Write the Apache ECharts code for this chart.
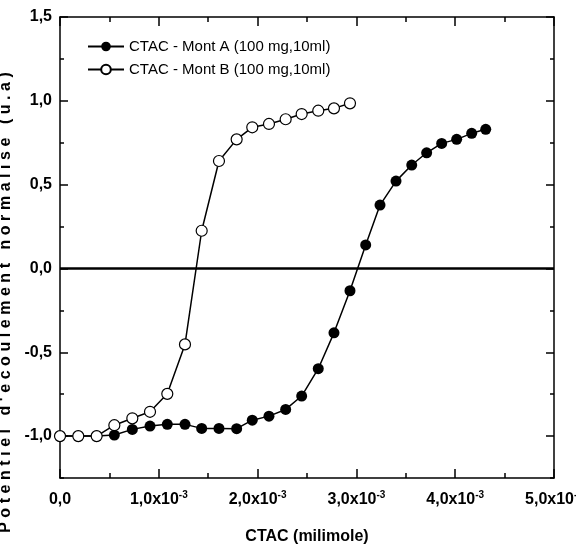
<!DOCTYPE html>
<html>
<head>
<meta charset="utf-8">
<script src="https://cdn.jsdelivr.net/npm/echarts@6/dist/echarts.min.js"></script>
<style>
  html, body { margin: 0; padding: 0; background: #fff; }
  #main { width: 576px; height: 547px; }
</style>
</head>
<body>
<div id="main"></div>
<script>
// CTAC concentration (milimole)
const concA = [0, 0.185e-3, 0.371e-3, 0.550e-3, 0.732e-3, 0.911e-3, 1.086e-3, 1.265e-3, 1.434e-3,
  1.609e-3, 1.788e-3, 1.946e-3, 2.115e-3, 2.284e-3, 2.446e-3, 2.614e-3, 2.773e-3, 2.935e-3,
  3.094e-3, 3.239e-3, 3.401e-3, 3.560e-3, 3.711e-3, 3.863e-3, 4.015e-3, 4.167e-3, 4.309e-3];
const potA = [-1.0, -1.0, -1.0, -0.994, -0.960, -0.940, -0.930, -0.930, -0.954,
  -0.954, -0.956, -0.905, -0.881, -0.841, -0.761, -0.598, -0.384, -0.133,
  0.140, 0.378, 0.521, 0.617, 0.690, 0.746, 0.770, 0.806, 0.830];

const concB = [0, 0.185e-3, 0.371e-3, 0.550e-3, 0.732e-3, 0.911e-3, 1.086e-3, 1.265e-3, 1.434e-3,
  1.609e-3, 1.788e-3, 1.946e-3, 2.115e-3, 2.284e-3, 2.446e-3, 2.614e-3, 2.773e-3, 2.935e-3];
const potB = [-1.0, -1.0, -1.0, -0.935, -0.894, -0.855, -0.748, -0.453, 0.225,
  0.641, 0.770, 0.842, 0.862, 0.890, 0.921, 0.941, 0.955, 0.985];

const yMajorTicks = [-1.0, -0.5, 0, 0.5, 1.0, 1.5];
const yMinorTicks = [-1.25, -0.75, -0.25, 0.25, 0.75, 1.25];

const nameA = 'CTAC - Mont A (100 mg,10ml)';
const nameB = 'CTAC - Mont B (100 mg,10ml)';
// letter-spaced in the original figure
const yName = "Potentiel d'ecoulement normalise (u.a)".split('').join('\u2009\u200a');

const font = "'Liberation Sans', Arial, sans-serif";

function pairs(xs, ys) {
  return xs.map((x, i) => [x, ys[i]]);
}

function xLabel(value) {
  if (value === 0) return '{b|0,0}';
  const m = (value * 1000).toFixed(1).replace('.', ',');
  return `{b|${m}x10}{s|-3}`;
}

const axisLine = { show: true, onZero: false, lineStyle: { color: '#000', width: 1.5 } };
const tickStyle = { color: '#000', width: 1.5 };

const chart = echarts.init(document.getElementById('main'));

const option = {
  animation: false,
  grid: { left: 60, right: 22, top: 17, bottom: 69, outerBoundsMode: 'none', containLabel: false },
  legend: {
    orient: 'vertical',
    left: 87,
    top: 39,
    padding: 0,
    itemWidth: 36,
    itemHeight: 12,
    itemGap: 8,
    textStyle: { fontFamily: font, fontSize: 15, color: '#000' },
    data: [nameA, nameB]
  },
  xAxis: [
    {
      type: 'value', position: 'bottom', min: 0, max: 0.005, interval: 0.001,
      axisLine: axisLine,
      axisTick: { inside: true, length: 9, lineStyle: tickStyle },
      minorTick: { show: true, splitNumber: 2, length: 5, lineStyle: tickStyle },
      splitLine: { show: false },
      axisLabel: {
        margin: 12,
        formatter: xLabel,
        rich: {
          b: { fontFamily: font, fontSize: 16, fontWeight: 'bold', color: '#000', lineHeight: 20 },
          s: { fontFamily: font, fontSize: 10, fontWeight: 'bold', color: '#000', verticalAlign: 'top', lineHeight: 12 }
        }
      },
      name: 'CTAC (milimole)',
      nameLocation: 'middle',
      nameGap: 51,
      nameTextStyle: { fontFamily: font, fontSize: 16, fontWeight: 'bold', color: '#000' }
    },
    {
      type: 'value', position: 'top', min: 0, max: 0.005, interval: 0.001,
      axisLine: axisLine,
      axisTick: { inside: true, length: 9, lineStyle: tickStyle },
      minorTick: { show: true, splitNumber: 2, length: 5, lineStyle: tickStyle },
      splitLine: { show: false },
      axisLabel: { show: false }
    }
  ],
  yAxis: [
    {
      type: 'value', position: 'left', min: -1.25, max: 1.5,
      axisLine: axisLine,
      axisTick: { inside: true, length: 8, customValues: yMajorTicks, lineStyle: tickStyle },
      splitLine: { show: false },
      axisLabel: {
        customValues: yMajorTicks,
        margin: 8,
        fontFamily: font, fontSize: 16, fontWeight: 'bold', color: '#000',
        formatter: v => v.toFixed(1).replace('.', ',')
      },
      name: yName,
      nameLocation: 'middle',
      nameRotate: 90,
      nameGap: 46,
      nameTextStyle: {
        fontFamily: font, fontSize: 16, fontWeight: 'bold', color: '#000',
        padding: [0, 110, 0, 0]
      }
    },
    {
      type: 'value', position: 'left', min: -1.25, max: 1.5, offset: 0,
      axisLine: { show: false, onZero: false },
      axisTick: { inside: true, length: 4, customValues: yMinorTicks, lineStyle: tickStyle },
      splitLine: { show: false },
      axisLabel: { show: false }
    },
    {
      type: 'value', position: 'right', min: -1.25, max: 1.5, offset: 0,
      axisLine: axisLine,
      axisTick: { inside: true, length: 8, customValues: yMajorTicks, lineStyle: tickStyle },
      splitLine: { show: false },
      axisLabel: { show: false }
    },
    {
      type: 'value', position: 'right', min: -1.25, max: 1.5, offset: 0,
      axisLine: { show: false, onZero: false },
      axisTick: { inside: true, length: 4, customValues: yMinorTicks, lineStyle: tickStyle },
      splitLine: { show: false },
      axisLabel: { show: false }
    }
  ],
  series: [
    {
      name: nameA,
      type: 'line',
      data: pairs(concA, potA),
      symbol: 'circle',
      symbolSize: 11,
      lineStyle: { color: '#000', width: 1.5 },
      itemStyle: { color: '#000' },
      markLine: {
        silent: true,
        symbol: 'none',
        label: { show: false },
        lineStyle: { color: '#000', width: 2.5, type: 'solid' },
        data: [{ yAxis: 0 }]
      }
    },
    {
      name: nameB,
      type: 'line',
      data: pairs(concB, potB),
      symbol: 'circle',
      symbolSize: 11,
      lineStyle: { color: '#000', width: 1.5 },
      itemStyle: { color: '#fff', borderColor: '#000', borderWidth: 1.2 }
    }
  ]
};

chart.setOption(option);
</script>
</body>
</html>
